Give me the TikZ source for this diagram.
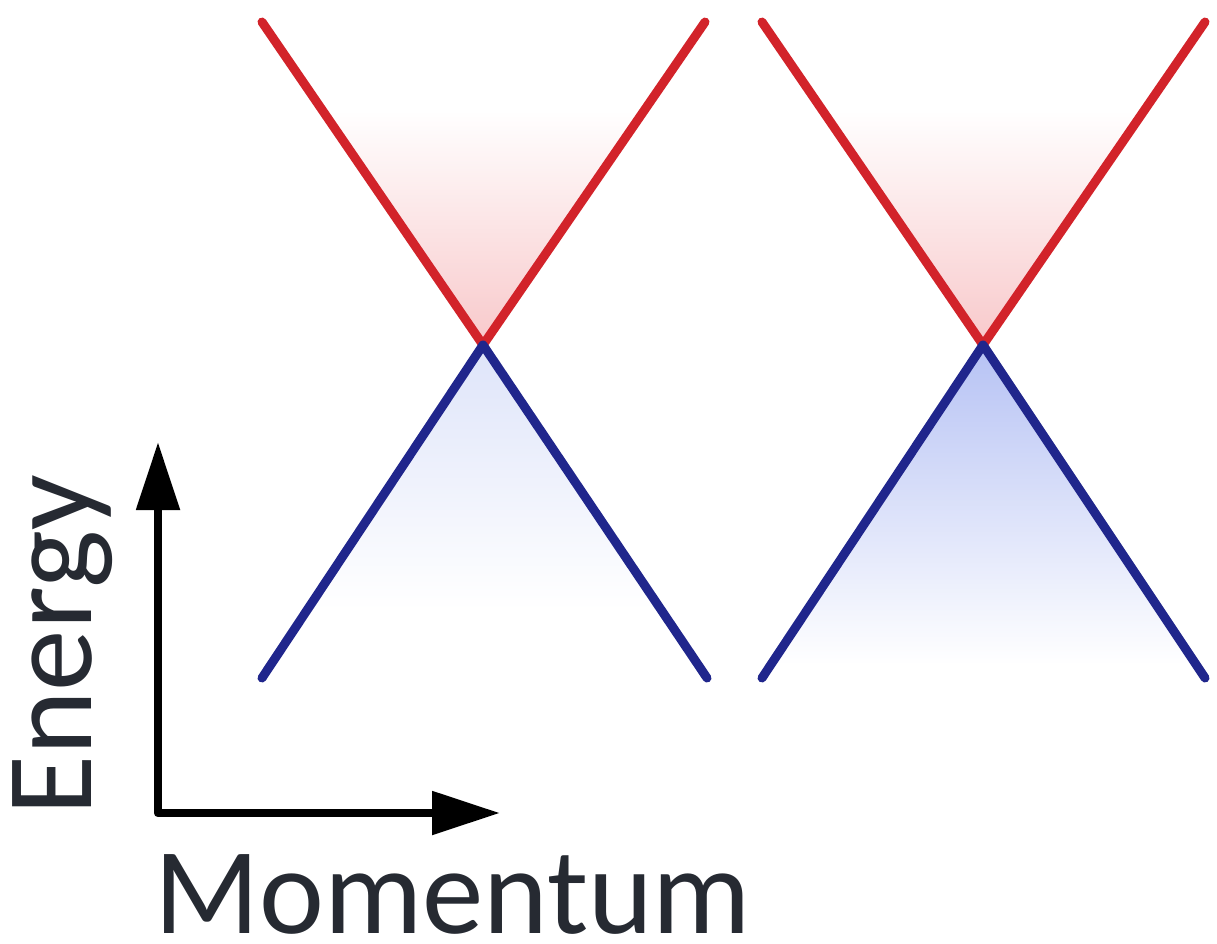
\documentclass[tikz,border=0pt]{standalone}
\usepackage{fontspec}
\setmainfont{Carlito}
\usetikzlibrary{arrows.meta}
\definecolor{bandred}{RGB}{210,35,42}
\definecolor{bandblue}{RGB}{32,38,140}
\definecolor{txt}{RGB}{38,42,50}
\definecolor{pinkfill}{RGB}{248,200,202}
\definecolor{bluefillA}{RGB}{222,228,249}
\definecolor{bluefillB}{RGB}{182,194,244}
\definecolor{bluefillBm}{RGB}{205,212,246}
\tikzset{
  band/.style={line width=9pt, line cap=round, line join=round},
  upper/.style={band, draw=bandred},
  lower/.style={band, draw=bandblue},
  axis/.style={line width=8.5pt, line join=round, draw=black,
    {Triangle[length=68pt,width=42pt]}-{Triangle[length=68pt,width=42pt]}},
  label/.style={font=\fontsize{123}{123}\selectfont, text=txt, inner sep=0pt, text depth=0pt}
}
\begin{document}
\begin{tikzpicture}[x=1pt,y=-1pt]
\useasboundingbox (0,0) rectangle (1217,943);
% left cone points
\coordinate (LTL) at (262,22);
\coordinate (LTR) at (705,22);
\coordinate (LV) at (483,345);
\coordinate (LBL) at (262,678);
\coordinate (LBR) at (707,678);
% right cone points
\coordinate (RTL) at (762,22);
\coordinate (RTR) at (1205,22);
\coordinate (RV) at (983,345);
\coordinate (RBL) at (762,678);
\coordinate (RBR) at (1205,678);
% shadings, left
\begin{scope}
  \clip (LTL) -- (LV) -- (LTR) -- cycle;
  \shade[top color=white, bottom color=pinkfill] (262,110) rectangle (707,347);
\end{scope}
\begin{scope}
  \clip (LBL) -- (LV) -- (LBR) -- cycle;
  \shade[top color=bluefillA, bottom color=white] (262,345) rectangle (707,610);
\end{scope}
% shadings, right
\begin{scope}
  \clip (RTL) -- (RV) -- (RTR) -- cycle;
  \shade[top color=white, bottom color=pinkfill] (762,110) rectangle (1205,347);
\end{scope}
\begin{scope}
  \clip (RBL) -- (RV) -- (RBR) -- cycle;
  \shade[top color=bluefillB, middle color=bluefillBm, bottom color=white] (762,345) rectangle (1205,665);
\end{scope}
% bands
\draw[upper] (LTL) -- (LV) -- (LTR);
\draw[upper] (RTL) -- (RV) -- (RTR);
\draw[lower] (LBL) -- (LV) -- (LBR);
\draw[lower] (RBL) -- (RV) -- (RBR);
% axes
\coordinate (Etip) at (158,442);
\coordinate (O) at (158,813);
\coordinate (Ktip) at (500,813);
\draw[axis] (Etip) -- (O) -- (Ktip);
% labels
\node[label, anchor=base west] (mom) at (154,933) {Momentum};
\node[label, rotate=90, anchor=base west] (en) at (91,816) {Energy};
\end{tikzpicture}
\end{document}
